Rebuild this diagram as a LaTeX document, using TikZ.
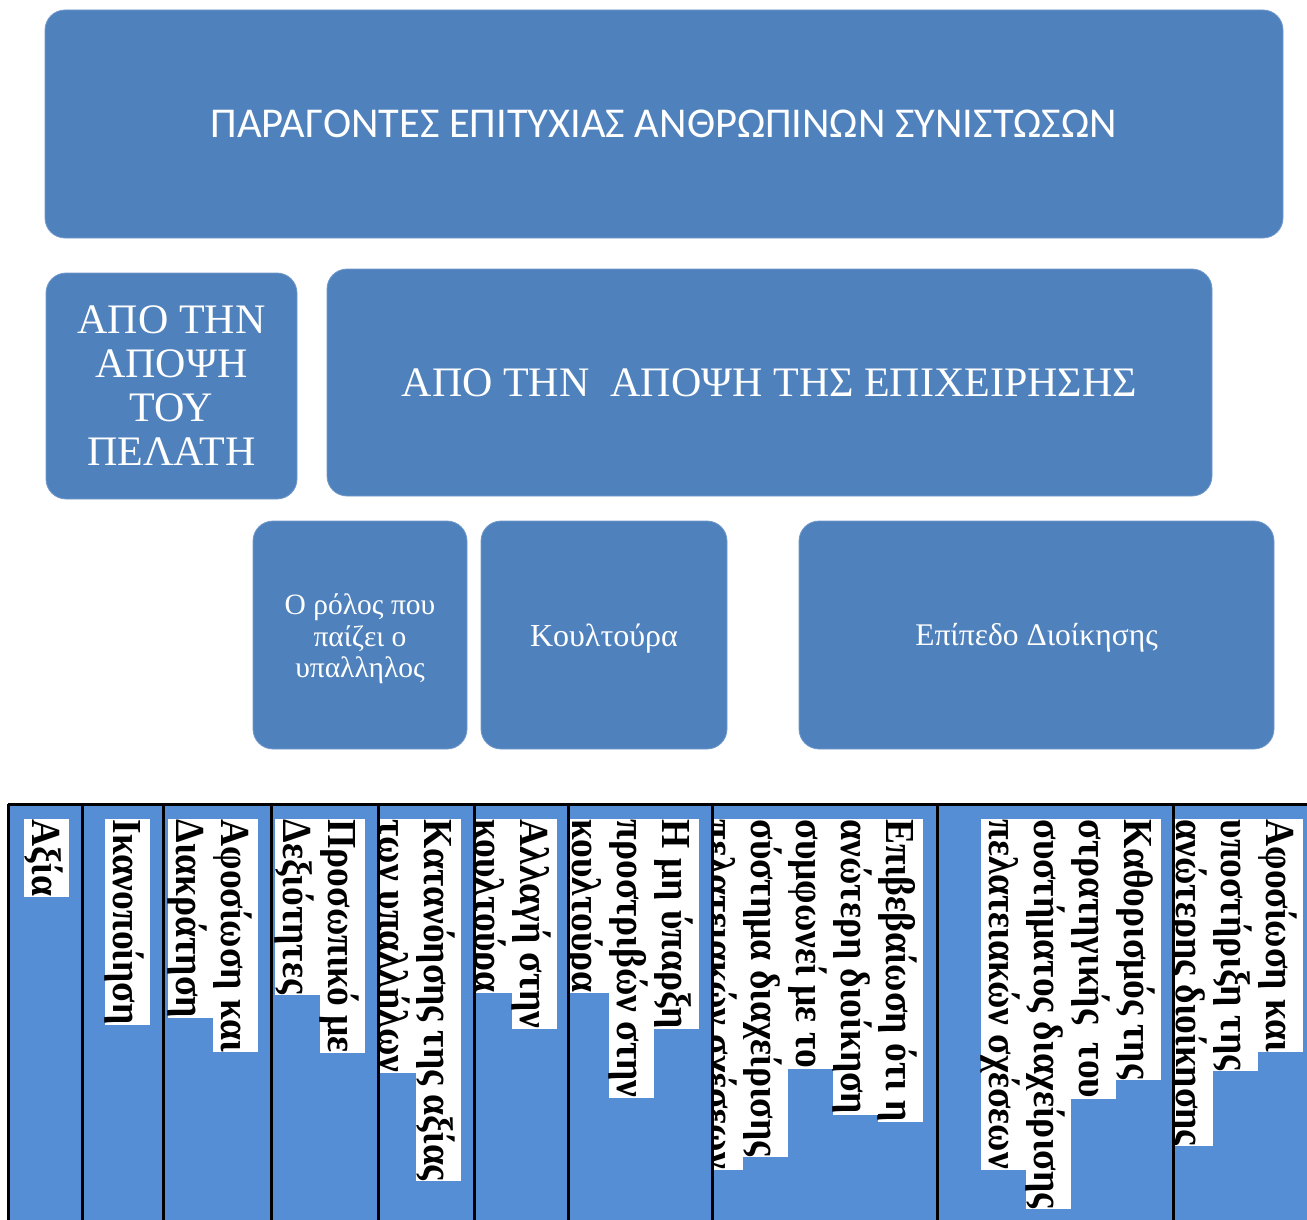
\documentclass[tikz,border=0pt]{standalone}
\usepackage{fontspec}
\usepackage{graphicx}
\setmainfont{Liberation Serif}
\newfontfamily\calibrifont{Carlito}
\definecolor{boxblue}{HTML}{4F81BD}
\definecolor{colblue}{HTML}{558ED5}
\newcommand{\tallglyphs}[1]{\scalebox{1}[1.1]{#1}}
\begin{document}
\begin{tikzpicture}[x=1pt,y=-1pt,
  topbox/.style={fill=boxblue, draw=boxblue!80!white, line width=0.8pt, rounded corners=20pt, text=white, align=center, inner sep=0pt},
  cell/.style={rotate=-90, anchor=north west, fill=white, inner xsep=0.5pt, inner ysep=0pt,
    text height=36pt, text depth=9pt, font=\bfseries\fontsize{37.5}{45}\selectfont},
  grid/.style={line width=3pt, black}]
\useasboundingbox (0,0) rectangle (1307,1220);
\begin{scope}
\clip (0,0) rectangle (1307,1220);
% top boxes
\node[topbox, minimum width=1238pt, minimum height=228pt, font=\calibrifont\fontsize{42.5}{46}\selectfont] (title) at (664,124) {ΠΑΡΑΓΟΝΤΕΣ ΕΠΙΤΥΧΙΑΣ ΑΝΘΡΩΠΙΝΩΝ ΣΥΝΙΣΤΩΣΩΝ};
\node[topbox, minimum width=251pt, minimum height=226pt, font=\fontsize{42}{44}\selectfont] (client) at (171.5,386) {ΑΠΟ ΤΗΝ\\ΑΠΟΨΗ\\ΤΟΥ\\ΠΕΛΑΤΗ};
\node[topbox, minimum width=885pt, minimum height=227pt, font=\fontsize{42}{44}\selectfont] (firm) at (769.5,382.5) {ΑΠΟ ΤΗΝ~ ΑΠΟΨΗ ΤΗΣ ΕΠΙΧΕΙΡΗΣΗΣ};
\node[topbox, minimum width=214pt, minimum height=228pt, font=\fontsize{29.5}{31.5}\selectfont] (role) at (360,635) {\\[-3pt]Ο ρόλος που\\παίζει ο\\υπαλληλος};
\node[topbox, minimum width=246pt, minimum height=228pt, text height=30pt, text depth=7pt, font=\fontsize{32}{34}\selectfont] (culture) at (604,635) {Κουλτούρα};
\node[topbox, minimum width=475pt, minimum height=228pt, text height=28pt, text depth=7pt, font=\fontsize{31.5}{34}\selectfont] (mgmt) at (1036.5,635) {Επίπεδο Διοίκησης};
% table background
\fill[colblue] (8,804) rectangle (1320,1230);
% column 1
\begin{scope}\clip (8,804) rectangle (82,1230);
\node[cell] (c1a) at (69,819) {\tallglyphs{Αξία}};
\end{scope}
% column 2
\begin{scope}\clip (82,804) rectangle (163,1230);
\node[cell] (c2a) at (150,819) {\tallglyphs{Ικανοποίηση}};
\end{scope}
% column 3
\begin{scope}\clip (163,804) rectangle (271,1230);
\node[cell] (c3a) at (258,819) {\tallglyphs{Αφοσίωση και}};
\node[cell] (c3b) at (213,819) {\tallglyphs{Διακράτηση}};
\end{scope}
% column 4
\begin{scope}\clip (271,804) rectangle (378,1230);
\node[cell] (c4a) at (365,819) {\tallglyphs{Προσωπικό με}};
\node[cell] (c4b) at (320,819) {\tallglyphs{Δεξιότητες}};
\end{scope}
% column 5
\begin{scope}\clip (378,804) rectangle (474,1230);
\node[cell] (c5a) at (461,819) {\tallglyphs{Κατανόησης της αξίας}};
\node[cell] (c5b) at (416,819) {\tallglyphs{των υπαλλήλων}};
\end{scope}
% column 6
\begin{scope}\clip (474,804) rectangle (568,1230);
\node[cell] (c6a) at (557,819) {\tallglyphs{Αλλαγή στην}};
\node[cell] (c6b) at (512,819) {\tallglyphs{κουλτούρα}};
\end{scope}
% column 7
\begin{scope}\clip (568,804) rectangle (712,1230);
\node[cell] (c7a) at (699,819) {\tallglyphs{Η μη ύπαρξη}};
\node[cell] (c7b) at (654,819) {\tallglyphs{προστριβών στην}};
\node[cell] (c7c) at (609,819) {\tallglyphs{κουλτούρα}};
\end{scope}
% column 8
\begin{scope}\clip (712,804) rectangle (937,1230);
\node[cell] (c8a) at (923,819) {\tallglyphs{Επιβεβαίωση ότι η}};
\node[cell] (c8b) at (878,819) {\tallglyphs{ανώτερη διοίκηση}};
\node[cell] (c8c) at (833,819) {\tallglyphs{συμφωνεί με το}};
\node[cell] (c8d) at (788,819) {\tallglyphs{σύστημα διαχείρισης}};
\node[cell] (c8e) at (743,819) {\tallglyphs{πελατειακών σχέσεων}};
\end{scope}
% column 9
\begin{scope}\clip (937,804) rectangle (1173,1230);
\node[cell] (c9a) at (1161,819) {\tallglyphs{Καθορισμός της}};
\node[cell] (c9b) at (1116,819) {\tallglyphs{στρατηγικής~ του}};
\node[cell] (c9c) at (1071,819) {\tallglyphs{συστήματος διαχείρισης}};
\node[cell] (c9d) at (1026,819) {\tallglyphs{πελατειακών σχέσεων}};
\end{scope}
% column 10
\begin{scope}\clip (1173,804) rectangle (1316,1230);
\node[cell] (c10a) at (1303,819) {\tallglyphs{Αφοσίωση και}};
\node[cell] (c10b) at (1258,819) {\tallglyphs{υποστήριξη της}};
\node[cell] (c10c) at (1213,819) {\tallglyphs{ανώτερης διοίκησης}};
\end{scope}
% grid lines
\draw[grid] (8,804) -- (1320,804);
\foreach \xx in {8,82,163,271,378,474,568,712,937,1173,1316}
  \draw[grid] (\xx,804) -- (\xx,1230);
\end{scope}
\end{tikzpicture}
\end{document}
